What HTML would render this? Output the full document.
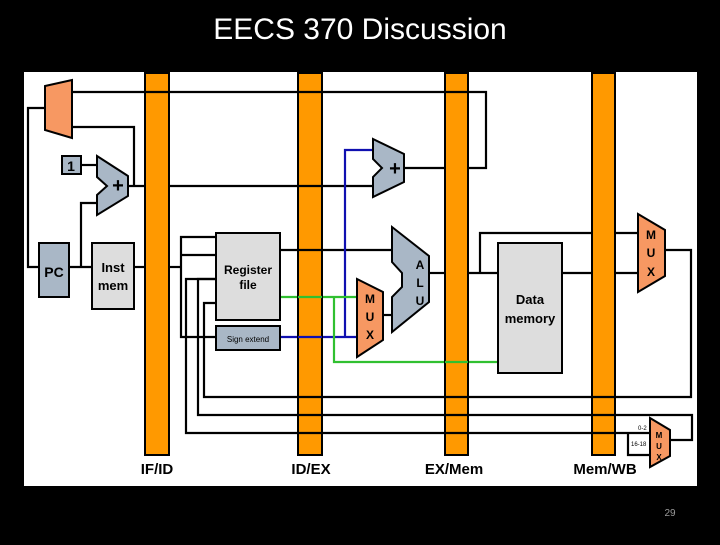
<!DOCTYPE html>
<html><head><style>
html,body{margin:0;padding:0;background:#000;}
body{width:720px;height:540px;overflow:hidden;position:relative;}
</style></head><body>
<svg width="720" height="540" viewBox="0 0 720 540" xmlns="http://www.w3.org/2000/svg" font-family="Liberation Sans, sans-serif">
<rect x="0" y="0" width="720" height="540" fill="#000"/>
<text x="360" y="39" fill="#fff" font-size="30" text-anchor="middle">EECS 370 Discussion</text>
<rect x="24" y="72" width="673" height="414" fill="#fff"/>
<g stroke="#000" stroke-width="2.2" fill="none">
<!-- fetch -->
<polyline points="72,92 486,92 486,168 468,168"/>
<polyline points="72,127 134,127 134,186"/>
<polyline points="127,186 145,186"/>
<polyline points="45,108 28,108 28,267 39,267"/>
<polyline points="69,267 92,267"/>
<polyline points="81,267 81,203 97,203"/>
<polyline points="81,165 97,165"/>
<polyline points="134,267 145,267"/>
<polyline points="169,186 373,186"/>
<polyline points="404,168 445,168"/>
<!-- decode -->
<polyline points="169,267 181,267"/>
<polyline points="216,237 181,237 181,337 216,337"/>
<polyline points="181,255 216,255"/>
<polyline points="216,279 186,279 186,433 650,433"/>
<polyline points="216,279 198,279 198,415 692,415 692,440 668,440"/>
<polyline points="216,303 204,303 204,397 691,397 691,250 665,250"/>
<polyline points="280,250 392,250"/>
<polyline points="383,315 392,315"/>
<!-- ex/mem -->
<polyline points="429,273 445,273"/>
<polyline points="468,273 498,273"/>
<polyline points="480,273 480,233 638,233"/>
<polyline points="562,273 638,273"/>
<polyline points="628,433 628,455 650,455"/>
</g>
<g stroke="#1010b0" stroke-width="2.2" fill="none">
<polyline points="280,337 357,337"/>
<polyline points="373,150 345,150 345,337"/>
</g>
<g stroke="#30c030" stroke-width="2.2" fill="none">
<polyline points="280,297 357,297"/>
<polyline points="334,297 334,362 498,362"/>
</g>
<!-- pipeline bars -->
<g fill="#f90" stroke="#000" stroke-width="2">
<rect x="145" y="73" width="24" height="382"/>
<rect x="298" y="73" width="24" height="382"/>
<rect x="445" y="73" width="23" height="382"/>
<rect x="592" y="73" width="23" height="382"/>
</g>
<!-- redraw lines crossing bars -->
<g stroke="#000" stroke-width="2.2" fill="none">
<line x1="145" y1="92" x2="169" y2="92" /><line x1="298" y1="92" x2="322" y2="92"/><line x1="445" y1="92" x2="468" y2="92"/>
<line x1="298" y1="186" x2="322" y2="186"/>
<line x1="298" y1="250" x2="322" y2="250"/>
<line x1="445" y1="397" x2="468" y2="397"/><line x1="592" y1="397" x2="615" y2="397"/><line x1="298" y1="397" x2="322" y2="397"/>
<line x1="445" y1="415" x2="468" y2="415"/><line x1="592" y1="415" x2="615" y2="415"/><line x1="298" y1="415" x2="322" y2="415"/>
<line x1="445" y1="433" x2="468" y2="433"/><line x1="592" y1="433" x2="615" y2="433"/><line x1="298" y1="433" x2="322" y2="433"/>
</g>
<line x1="298" y1="297" x2="322" y2="297" stroke="#30c030" stroke-width="2.2"/>
<line x1="445" y1="362" x2="468" y2="362" stroke="#30c030" stroke-width="2.2"/>
<line x1="298" y1="337" x2="322" y2="337" stroke="#1010b0" stroke-width="2.2"/>
<!-- components -->
<g stroke="#000" stroke-width="2">
<polygon points="45,86 72,80 72,138 45,130" fill="#f79862"/>
<rect x="62" y="156" width="19" height="18" fill="#a9b7c6"/>
<polygon points="97,156 128,176 128,196 97,215 97,195 107,186 97,177" fill="#a9b7c6"/>
<rect x="39" y="243" width="30" height="54" fill="#a9b7c6"/>
<rect x="92" y="243" width="42" height="66" fill="#ddd"/>
<rect x="216" y="233" width="64" height="87" fill="#ddd"/>
<rect x="216" y="326" width="64" height="24" fill="#a9b7c6"/>
<polygon points="373,139 404,154 404,182 373,197 373,177 382,168 373,159" fill="#a9b7c6"/>
<polygon points="392,227 429,256 429,302 392,332 392,297 402,287 402,273 392,262" fill="#a9b7c6"/>
<polygon points="357,279 383,292 383,340 357,357" fill="#f79862"/>
<rect x="498" y="243" width="64" height="130" fill="#ddd"/>
<polygon points="638,214 665,230 665,276 638,292" fill="#f79862"/>
<polygon points="650,418 670,430 670,456 650,467" fill="#f79862"/>
</g>
<g font-weight="bold" fill="#000" text-anchor="middle">
<text x="71" y="171" font-size="14">1</text>
<text x="118" y="192" font-size="20">+</text>
<text x="395" y="175" font-size="20">+</text>
<text x="54" y="277" font-size="14">PC</text>
<text x="113" y="272" font-size="13">Inst</text>
<text x="113" y="290" font-size="13">mem</text>
<text x="248" y="274" font-size="12">Register</text>
<text x="248" y="289" font-size="12">file</text>
<text x="248" y="342" font-size="8" font-weight="normal">Sign extend</text>
<text x="530" y="304" font-size="13">Data</text>
<text x="530" y="323" font-size="13">memory</text>
<text x="420" y="269" font-size="12">A</text>
<text x="420" y="287" font-size="12">L</text>
<text x="420" y="305" font-size="12">U</text>
<text x="370" y="303" font-size="12">M</text>
<text x="370" y="321" font-size="12">U</text>
<text x="370" y="339" font-size="12">X</text>
<text x="651" y="239" font-size="12">M</text>
<text x="651" y="257" font-size="12">U</text>
<text x="651" y="276" font-size="12">X</text>
<text x="659" y="438" font-size="8">M</text>
<text x="659" y="449" font-size="8">U</text>
<text x="659" y="460" font-size="8">X</text>
<text x="157" y="474" font-size="15">IF/ID</text>
<text x="311" y="474" font-size="15">ID/EX</text>
<text x="454" y="474" font-size="15">EX/Mem</text>
<text x="605" y="474" font-size="15">Mem/WB</text>
</g>
<text x="638" y="430" font-size="6">0-2</text>
<text x="631" y="446" font-size="6">16-18</text>
<text x="670" y="516" fill="#999" font-size="10" text-anchor="middle">29</text>
</svg>
</body></html>
